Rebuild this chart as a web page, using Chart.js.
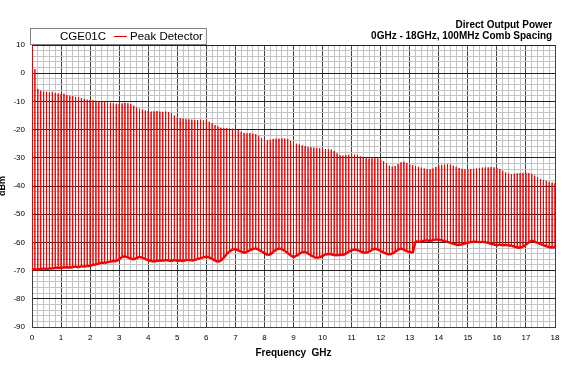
<!DOCTYPE html>
<html>
<head>
<meta charset="utf-8">
<script src="https://cdn.jsdelivr.net/npm/chart.js@4/dist/chart.umd.min.js"></script>
<style>
  body { margin: 0; background: #fff; }
  canvas { display: block; }
</style>
</head>
<body>
<canvas id="combChart" width="570" height="380"></canvas>
<script>
// comb lines every 100 MHz, 0 GHz .. 18 GHz
const combSpacingGHz = 0.1;

// peak level of each comb line (dBm), one row per GHz
const peakLevels = [
  12.0, 1.5, -5.6, -6.2, -6.5, -6.6, -6.8, -6.6, -7.0, -7.2,
  -7.4, -7.3, -7.8, -8.0, -8.1, -8.4, -8.6, -8.8, -9.1, -9.4,
  -9.5, -9.6, -9.8, -10.0, -10.1, -10.2, -10.4, -10.5, -10.7, -10.8,
  -10.9, -10.7, -10.5, -10.6, -11.0, -11.5, -12.2, -12.6, -12.9, -13.2,
  -13.4, -13.6, -13.5, -13.4, -13.6, -13.7, -13.6, -13.8, -14.2, -15.0,
  -15.8, -16.0, -16.1, -16.3, -16.4, -16.5, -16.6, -16.6, -16.5, -16.7,
  -16.8, -17.2, -17.8, -18.4, -18.9, -19.3, -19.5, -19.4, -19.6, -19.7,
  -19.8, -20.2, -20.8, -21.2, -21.3, -21.2, -21.4, -21.6, -22.2, -23.0,
  -23.6, -23.8, -23.6, -23.3, -23.2, -23.2, -23.1, -23.2, -23.3, -24.0,
  -24.6, -25.0, -25.3, -25.6, -25.9, -26.2, -26.3, -26.4, -26.5, -26.6,
  -26.8, -26.9, -27.0, -27.1, -27.6, -28.4, -29.1, -29.2, -29.0, -28.9,
  -28.8, -28.9, -29.0, -29.5, -30.0, -30.2, -30.3, -30.2, -30.1, -30.2,
  -30.5, -31.2, -32.0, -32.8, -33.2, -32.9, -32.2, -31.6, -31.4, -31.8,
  -32.3, -32.6, -33.0, -33.2, -33.5, -33.8, -34.0, -34.1, -33.8, -33.2,
  -32.8, -32.5, -32.4, -32.3, -32.4, -32.8, -33.2, -33.6, -33.9, -34.1,
  -34.1, -34.0, -33.9, -33.8, -33.6, -33.5, -33.4, -33.4, -33.3, -33.4,
  -33.6, -34.0, -34.6, -35.2, -35.6, -35.8, -35.7, -35.5, -35.4, -35.3,
  -35.3, -35.4, -35.8, -36.3, -36.9, -37.5, -37.9, -38.2, -38.5, -38.8,
  -39.0
];

// noise floor under each comb line (dBm)
const floorLevels = [
  -69.6, -69.5, -69.7, -69.4, -69.3, -69.5, -69.2, -69.3, -69.0, -69.1,
  -69.0, -68.9, -68.8, -69.0, -68.7, -68.6, -68.8, -68.5, -68.6, -68.4,
  -68.3, -68.0, -67.8, -67.5, -67.2, -67.3, -67.0, -66.8, -66.6, -66.7,
  -66.0, -65.1, -65.0, -65.3, -65.8, -66.0, -65.6, -65.1, -65.4, -65.9,
  -66.3, -66.6, -66.8, -66.5, -66.4, -66.5, -66.3, -66.4, -66.6, -66.3,
  -66.5, -66.4, -66.6, -66.3, -66.2, -66.4, -66.2, -65.9, -65.6, -65.3,
  -65.1, -65.3, -65.8, -66.5, -66.9, -66.5, -65.4, -64.2, -63.2, -62.5,
  -62.4, -62.8, -63.3, -63.7, -63.4, -62.8, -62.3, -62.2, -62.6, -63.2,
  -63.8, -64.5, -64.3, -63.4, -62.6, -62.2, -62.4, -63.0, -63.8, -64.6,
  -65.2, -64.8, -64.0, -63.5, -63.4, -63.9, -64.6, -65.2, -65.5, -65.3,
  -64.8, -64.3, -64.1, -64.2, -64.5, -64.6, -64.4, -64.5, -64.0, -63.3,
  -62.8, -62.5, -62.7, -63.2, -63.6, -63.7, -63.3, -62.7, -62.2, -62.6,
  -63.0, -63.6, -64.0, -64.3, -64.0, -63.3, -62.6, -62.2, -62.6, -63.2,
  -63.4, -63.7, -59.6, -59.8, -59.7, -59.4, -59.3, -59.5, -59.2, -59.0,
  -59.0, -59.3, -59.6, -59.8, -60.2, -60.5, -60.8, -61.0, -60.7, -60.4,
  -60.1, -59.9, -59.7, -59.8, -59.9, -59.8, -59.9, -60.2, -60.5, -60.8,
  -61.0, -60.8, -61.0, -60.9, -61.0, -61.2, -61.5, -61.8, -61.9, -61.6,
  -60.8, -60.0, -59.4, -59.7, -60.2, -60.6, -61.0, -61.4, -61.7, -61.8,
  -61.7
];

const xTickLabels = ["0","1","2","3","4","5","6","7","8","9","10","11","12","13","14","15","16","17","18"];
const yTickLabels = ["10","0","-10","-20","-30","-40","-50","-60","-70","-80","-90"];

const deviceName = "CGE01C";
const seriesName = "Peak Detector";
const titleLines = ["Direct Output Power ", "0GHz - 18GHz, 100MHz Comb Spacing "];

// build the spectrum trace: floor -> peak -> floor at each comb frequency
const trace = [];
peakLevels.forEach((peak, i) => {
  const f = Math.round(i * combSpacingGHz * 10) / 10;
  trace.push({ x: f, y: floorLevels[i] });
  trace.push({ x: f, y: peak });
  trace.push({ x: f, y: floorLevels[i] });
});

const isMajor = (v, step) => Math.abs(v / step - Math.round(v / step)) < 1e-6;

const legendBox = {
  id: "legendBox",
  afterDraw(chart) {
    const { ctx, chartArea } = chart;
    const left = chartArea.left - 2;
    const top = chartArea.top - 17;
    const h = 16;
    ctx.save();
    ctx.font = '11.5px Arial, "Liberation Sans", sans-serif';
    ctx.textBaseline = "middle";
    const w1 = ctx.measureText(deviceName).width;
    const w2 = ctx.measureText(seriesName).width;
    const x1 = left + 30;
    const lx = x1 + w1 + 8;
    const x2 = lx + 16;
    const right = x2 + w2 + 3;
    ctx.fillStyle = "#fff";
    ctx.fillRect(left, top, right - left, h);
    ctx.strokeStyle = "#808080";
    ctx.lineWidth = 1;
    ctx.strokeRect(left + 0.5, top + 0.5, right - left, h);
    ctx.fillStyle = "#000";
    ctx.fillText(deviceName, x1, top + h / 2 + 1);
    ctx.strokeStyle = "#e00000";
    ctx.beginPath();
    ctx.moveTo(lx, top + h / 2 + 0.5);
    ctx.lineTo(lx + 13, top + h / 2 + 0.5);
    ctx.stroke();
    ctx.fillText(seriesName, x2, top + h / 2 + 1);
    ctx.restore();
  }
};

Chart.defaults.font.family = 'Arial, "Liberation Sans", sans-serif';
Chart.defaults.color = "#000";

new Chart(document.getElementById("combChart").getContext("2d"), {
  type: "line",
  data: {
    datasets: [{
      label: seriesName,
      data: trace,
      borderColor: "#f00000",
      borderWidth: 1,
      pointRadius: 0,
      tension: 0,
      segment: {
        borderWidth: (c) => (c.p0.parsed.x === c.p1.parsed.x ? 1 : 2.4)
      }
    }]
  },
  options: {
    responsive: false,
    animation: false,
    layout: { padding: { top: 0, right: 15, bottom: 17, left: 0 } },
    plugins: {
      legend: { display: false },
      tooltip: { enabled: false },
      title: {
        display: true,
        text: titleLines,
        align: "end",
        font: { size: 10, weight: "bold", lineHeight: 1.15 },
        padding: { top: 19, bottom: 3 }
      }
    },
    scales: {
      x: {
        type: "linear",
        min: 0,
        max: 18,
        afterFit: (s) => { s.height = 36; },
        ticks: {
          stepSize: 0.2,
          maxTicksLimit: 200,
          autoSkip: false,
          maxRotation: 0,
          minRotation: 0,
          padding: 6,
          font: { size: 8 },
          callback: (v) => (isMajor(v, 1) ? xTickLabels[Math.round(v)] : "")
        },
        grid: {
          drawTicks: false,
          color: (c) => (isMajor(c.tick.value, 1) ? "#404040" : "#c4c4c4"),
          lineWidth: 1
        },
        border: { color: "#404040" },
        title: {
          display: true,
          text: "Frequency  GHz",
          font: { size: 10, weight: "bold", lineHeight: 1.2 },
          padding: { top: 4, bottom: 4 }
        }
      },
      y: {
        min: -90,
        max: 10,
        afterFit: (s) => { s.width = 32; },
        ticks: {
          stepSize: 2,
          maxTicksLimit: 200,
          autoSkip: false,
          padding: 7,
          font: { size: 8 },
          callback: (v) => (isMajor(v, 10) ? yTickLabels[Math.round((10 - v) / 10)] : "")
        },
        grid: {
          drawTicks: false,
          color: (c) => (isMajor(c.tick.value, 10) ? "#202020" : "#c4c4c4"),
          lineWidth: 1
        },
        border: { color: "#404040" },
        title: {
          display: true,
          text: "dBm",
          font: { size: 9, weight: "bold", lineHeight: 1.2 },
          padding: { top: -3, bottom: 0 }
        }
      }
    }
  },
  plugins: [legendBox]
});
</script>
</body>
</html>
